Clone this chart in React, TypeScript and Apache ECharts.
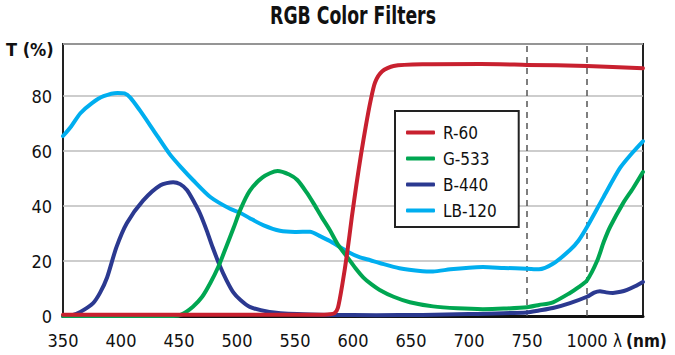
import React, { useEffect, useRef } from "react";
import * as echarts from "echarts";

// Wavelength axis is broken: 350–750 nm linear, 750–1233 nm compressed.
const BREAK_NM = 750;
const COMPRESS = 0.2069;
const pos = (nm: number) => (nm <= BREAK_NM ? nm : BREAK_NM + (nm - BREAK_NM) * COMPRESS);

const xTickNm = [350, 400, 450, 500, 550, 600, 650, 700, 750, 1000];
const refLinesNm = [750, 1000];
const yTicks = [0, 20, 40, 60, 80];

const rNm = [350, 450, 550, 575, 580, 584, 587, 591, 595, 599, 603, 607, 611, 615, 619, 625, 635, 660, 710, 750, 1000, 1233];
const rT = [0.5, 0.5, 0.5, 0.5, 0.6, 1, 3, 12, 23, 36, 48, 59, 69, 78, 85, 89, 91, 91.6, 91.7, 91.4, 91, 90.2];

const gNm = [350, 445, 452, 462, 470, 477, 484, 491, 497, 503, 511, 522, 535, 545, 552, 560, 566, 573, 580, 587, 595, 602, 609, 616, 623, 635, 649, 669, 690, 712, 730, 750, 800, 858, 929, 965, 1000, 1042, 1070, 1096, 1150, 1192, 1233];
const gT = [0, 0, 0.5, 3.4, 7, 12, 18, 25.5, 32, 38.8, 45.5, 50.5, 52.8, 51.5, 49.5, 45, 41, 36, 31.3, 26, 21.5, 17.5, 14, 11.5, 9.5, 7, 5, 3.5, 2.8, 2.5, 2.7, 3.2, 4, 5, 8.4, 10.5, 13, 20, 27, 32.4, 41, 46.5, 52.4];

const bNm = [350, 358, 365, 376, 382, 388, 396, 405, 419, 434, 445, 451, 457, 463, 468, 474, 479, 485, 491, 497, 503, 511, 528, 552, 580, 620, 660, 700, 750, 800, 858, 929, 1000, 1030, 1054, 1080, 1108, 1140, 1167, 1200, 1233];
const bT = [0, 0.3, 1.5, 4.7, 8.5, 14, 25, 33.8, 42, 47.6, 48.7, 48, 45.8, 41.5, 37.4, 31, 25, 18.5, 13, 8.5, 5.8, 3.3, 1.5, 0.7, 0.4, 0.3, 0.4, 0.7, 1.3, 2, 2.9, 4.7, 7, 8.5, 9, 8.6, 8.4, 8.8, 9.5, 10.8, 12.4];

const lbNm = [350, 357, 365, 375, 385, 397, 403, 408, 416, 428, 442, 452, 462, 477, 494, 503, 511, 523, 537, 550, 563, 572, 580, 595, 605, 615, 623, 640, 660, 669, 684, 700, 712, 730, 750, 800, 858, 929, 965, 1000, 1067, 1137, 1190, 1233];
const lbT = [65.5, 69, 73.8, 77.5, 80, 81.2, 81, 79.5, 75, 67.6, 58.9, 54, 49.5, 43.3, 39, 37.5, 35.6, 33, 31, 30.6, 30.7, 29, 27.3, 23.5, 21.5, 20.3, 19.3, 17.4, 16.3, 16.2, 17, 17.6, 17.8, 17.5, 17.2, 17, 19, 24, 27.5, 32.4, 43, 53.8, 59.5, 63.6];

const FONT = "'DejaVu Sans Condensed', 'Liberation Sans Narrow', sans-serif";

const mk = (name: string, nm: number[], t: number[], color: string) => ({
  name,
  type: "line",
  data: nm.map((w, i) => [pos(w), t[i]]),
  showSymbol: false,
  smooth: 0.25,
  lineStyle: { color, width: 4, cap: "round", join: "round" },
  itemStyle: { color },
  z: 3,
});

export default function App() {
  const ref = useRef<HTMLDivElement>(null);
  useEffect(() => {
    if (!ref.current) return;
    const chart = echarts.init(ref.current, undefined, { renderer: "svg" });
    const refSeries = refLinesNm.map((nm, i) => ({
      name: "ref" + i,
      type: "line",
      data: [
        [pos(nm), 0],
        [pos(nm), 99],
      ],
      showSymbol: false,
      silent: true,
      lineStyle: { color: "#555", width: 1.5, type: [6, 5] },
      z: 1,
    }));
    chart.setOption({
      animation: false,
      backgroundColor: "#fff",
      grid: {
        left: 63,
        right: 32,
        top: 44,
        bottom: 39,
        show: true,
        borderColor: "#222",
        borderWidth: 2,
        backgroundColor: "transparent",
      },
      legend: {
        data: ["R-60", "G-533", "B-440", "LB-120"],
        orient: "vertical",
        left: 395,
        top: 111,
        icon: "roundRect",
        itemWidth: 29,
        itemHeight: 4,
        itemGap: 9,
        padding: [13, 22, 8, 11],
        backgroundColor: "#fff",
        borderColor: "#222",
        borderWidth: 2,
        textStyle: { fontFamily: FONT, fontSize: 17, color: "#111", padding: [0, 0, 0, 3] },
        z: 10,
      },
      xAxis: {
        type: "value",
        min: 350,
        max: 850,
        axisLine: { show: true, lineStyle: { color: "#111", width: 3 } },
        axisTick: { show: false },
        splitLine: { show: false },
        axisLabel: {
          customValues: xTickNm.map(pos),
          margin: 15,
          fontFamily: FONT,
          fontSize: 18,
          color: "#111",
          formatter: (v: number) => {
            const nm = xTickNm.find((w) => Math.abs(pos(w) - v) < 0.01);
            return nm === undefined ? "" : String(nm);
          },
        },
      },
      yAxis: {
        type: "value",
        min: 0,
        max: 99,
        interval: 20,
        axisLine: { show: false },
        axisTick: { show: false },
        splitLine: { show: true, lineStyle: { color: "#bdbdbd", width: 1.5 } },
        axisLabel: {
          margin: 11,
          fontFamily: FONT,
          fontSize: 18,
          color: "#111",
          formatter: (v: number) => (yTicks.includes(v) ? String(v) : ""),
        },
      },
      graphic: [
        {
          type: "text",
          x: 353,
          y: 16,
          scaleX: 0.8,
          style: {
            text: "RGB Color Filters",
            font: `bold 24px ${FONT}`,
            fill: "#111",
            textAlign: "center",
            textVerticalAlign: "middle",
          },
        },
        {
          type: "text",
          x: 6,
          y: 49,
          style: { text: "T (%)", font: `bold 18px ${FONT}`, fill: "#111", textVerticalAlign: "middle" },
        },
        {
          type: "text",
          x: 613,
          y: 341,
          style: { text: "λ", font: `17px ${FONT}`, fill: "#111", textVerticalAlign: "middle" },
        },
        {
          type: "text",
          x: 626,
          y: 341,
          style: { text: "(nm)", font: `bold 17px ${FONT}`, fill: "#111", textVerticalAlign: "middle" },
        },
      ],
      series: [
        ...refSeries,
        mk("LB-120", lbNm, lbT, "#00aeef"),
        mk("B-440", bNm, bT, "#2b3990"),
        mk("G-533", gNm, gT, "#00a651"),
        mk("R-60", rNm, rT, "#c8202f"),
      ],
    });
    return () => chart.dispose();
  }, []);
  return <div ref={ref} style={{ width: 675, height: 355, position: "absolute", left: 0, top: 0 }} />;
}
